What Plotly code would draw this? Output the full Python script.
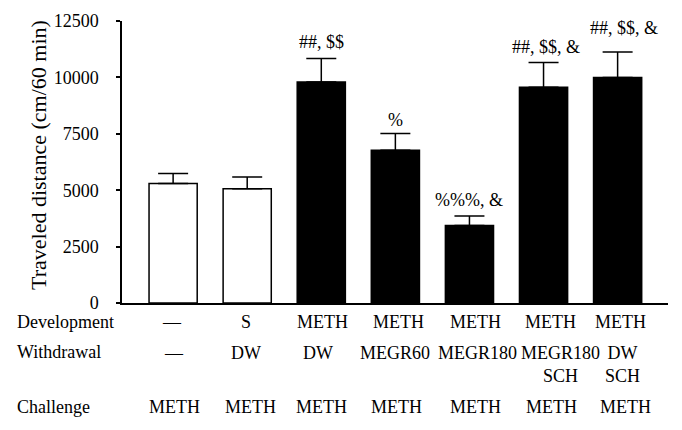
import plotly.graph_objects as go

groups = ["G1", "G2", "G3", "G4", "G5", "G6", "G7"]
means = [5300, 5060, 9800, 6770, 3430, 9560, 10000]
err_up = [440, 530, 1040, 740, 430, 1100, 1130]
fill_colors = ["white", "white", "black", "black", "black", "black", "black"]
sig_labels = ["", "", "##, $$", "%", "%%%, &", "##, $$, &", "##, $$, &"]

row_names = ["Development", "Withdrawal", "Challenge"]
development = ["—", "S", "METH", "METH", "METH", "METH", "METH"]
withdrawal = ["—", "DW", "DW", "MEGR60", "MEGR180", "MEGR180<br>SCH", "DW<br>SCH"]
challenge = ["METH", "METH", "METH", "METH", "METH", "METH", "METH"]

y_ticks = [0, 2500, 5000, 7500, 10000, 12500]
y_ticktext = ["0", "2500", "5000", "7500", "10000", "12500"]

FONT = "Liberation Serif, DejaVu Serif, serif"
xs = list(range(len(groups)))

fig = go.Figure()
fig.add_trace(go.Bar(
    x=xs, y=means, width=0.65,
    marker=dict(color=fill_colors, line=dict(color="black", width=1.5)),
    error_y=dict(type="data", symmetric=False, array=err_up,
                 arrayminus=[0] * len(means), color="black",
                 thickness=1.5, width=15),
    showlegend=False,
))

# significance marks
sig_shift = [(0, 4), (0, 4), (0, 4), (0, 2), (0, 4), (2, 4), (6, 12)]
for i, lab in enumerate(sig_labels):
    if lab:
        fig.add_annotation(x=i, y=means[i] + err_up[i], xref="x", yref="y",
                           text=lab, showarrow=False, yanchor="bottom",
                           xshift=sig_shift[i][0], yshift=sig_shift[i][1],
                           font=dict(family=FONT, size=18, color="black"))

# table rows
row_y = [-0.066, -0.133, -0.368]
row_anchor = ["middle", "top", "middle"]
row_xshift = [
    [-5, -5, -2, -1, 2, 3, -1],
    [-3, -5, -7, -4, 4, 13, 1],
    [-2, 0, -3, -3, 2, 4, 4],
]
for r, (name, vals) in enumerate(zip(row_names, [development, withdrawal, challenge])):
    fig.add_annotation(x=-0.196, y=row_y[r], xref="paper", yref="paper",
                       text=name, showarrow=False, xanchor="left",
                       yanchor="middle",
                       yshift=0 if r != 1 else -11,
                       font=dict(family=FONT, size=18, color="black"))
    for i, v in enumerate(vals):
        fig.add_annotation(x=i + 0.05, y=row_y[r], xref="x", yref="paper",
                           text=v, showarrow=False, xanchor="center",
                           yanchor=row_anchor[r], xshift=row_xshift[r][i],
                           font=dict(family=FONT, size=18, color="black"))

# y title
fig.add_annotation(x=-0.152, y=0.525, xref="paper", yref="paper",
                   text="Traveled distance (cm/60 min)", textangle=-90,
                   showarrow=False, xanchor="center", yanchor="middle",
                   font=dict(family=FONT, size=22, color="black"))

fig.update_layout(
    width=674, height=422,
    margin=dict(l=114, r=14, t=13, b=127),
    plot_bgcolor="white", paper_bgcolor="white",
    xaxis=dict(range=[-0.69, 6.68], showline=True, linecolor="black",
               linewidth=1.5, showticklabels=False, ticks="",
               showgrid=False, zeroline=False, fixedrange=True),
    yaxis=dict(range=[0, 12500], tickvals=y_ticks, ticktext=y_ticktext,
               ticks="outside", automargin=False,
               ticklen=4, tickwidth=1.5, tickcolor="black",
               showline=True, linecolor="black", linewidth=1.5,
               showgrid=False, zeroline=False,
               ticklabelstandoff=14,
               tickfont=dict(family=FONT, size=18, color="black")),
)

fig.write_html("out.html")
